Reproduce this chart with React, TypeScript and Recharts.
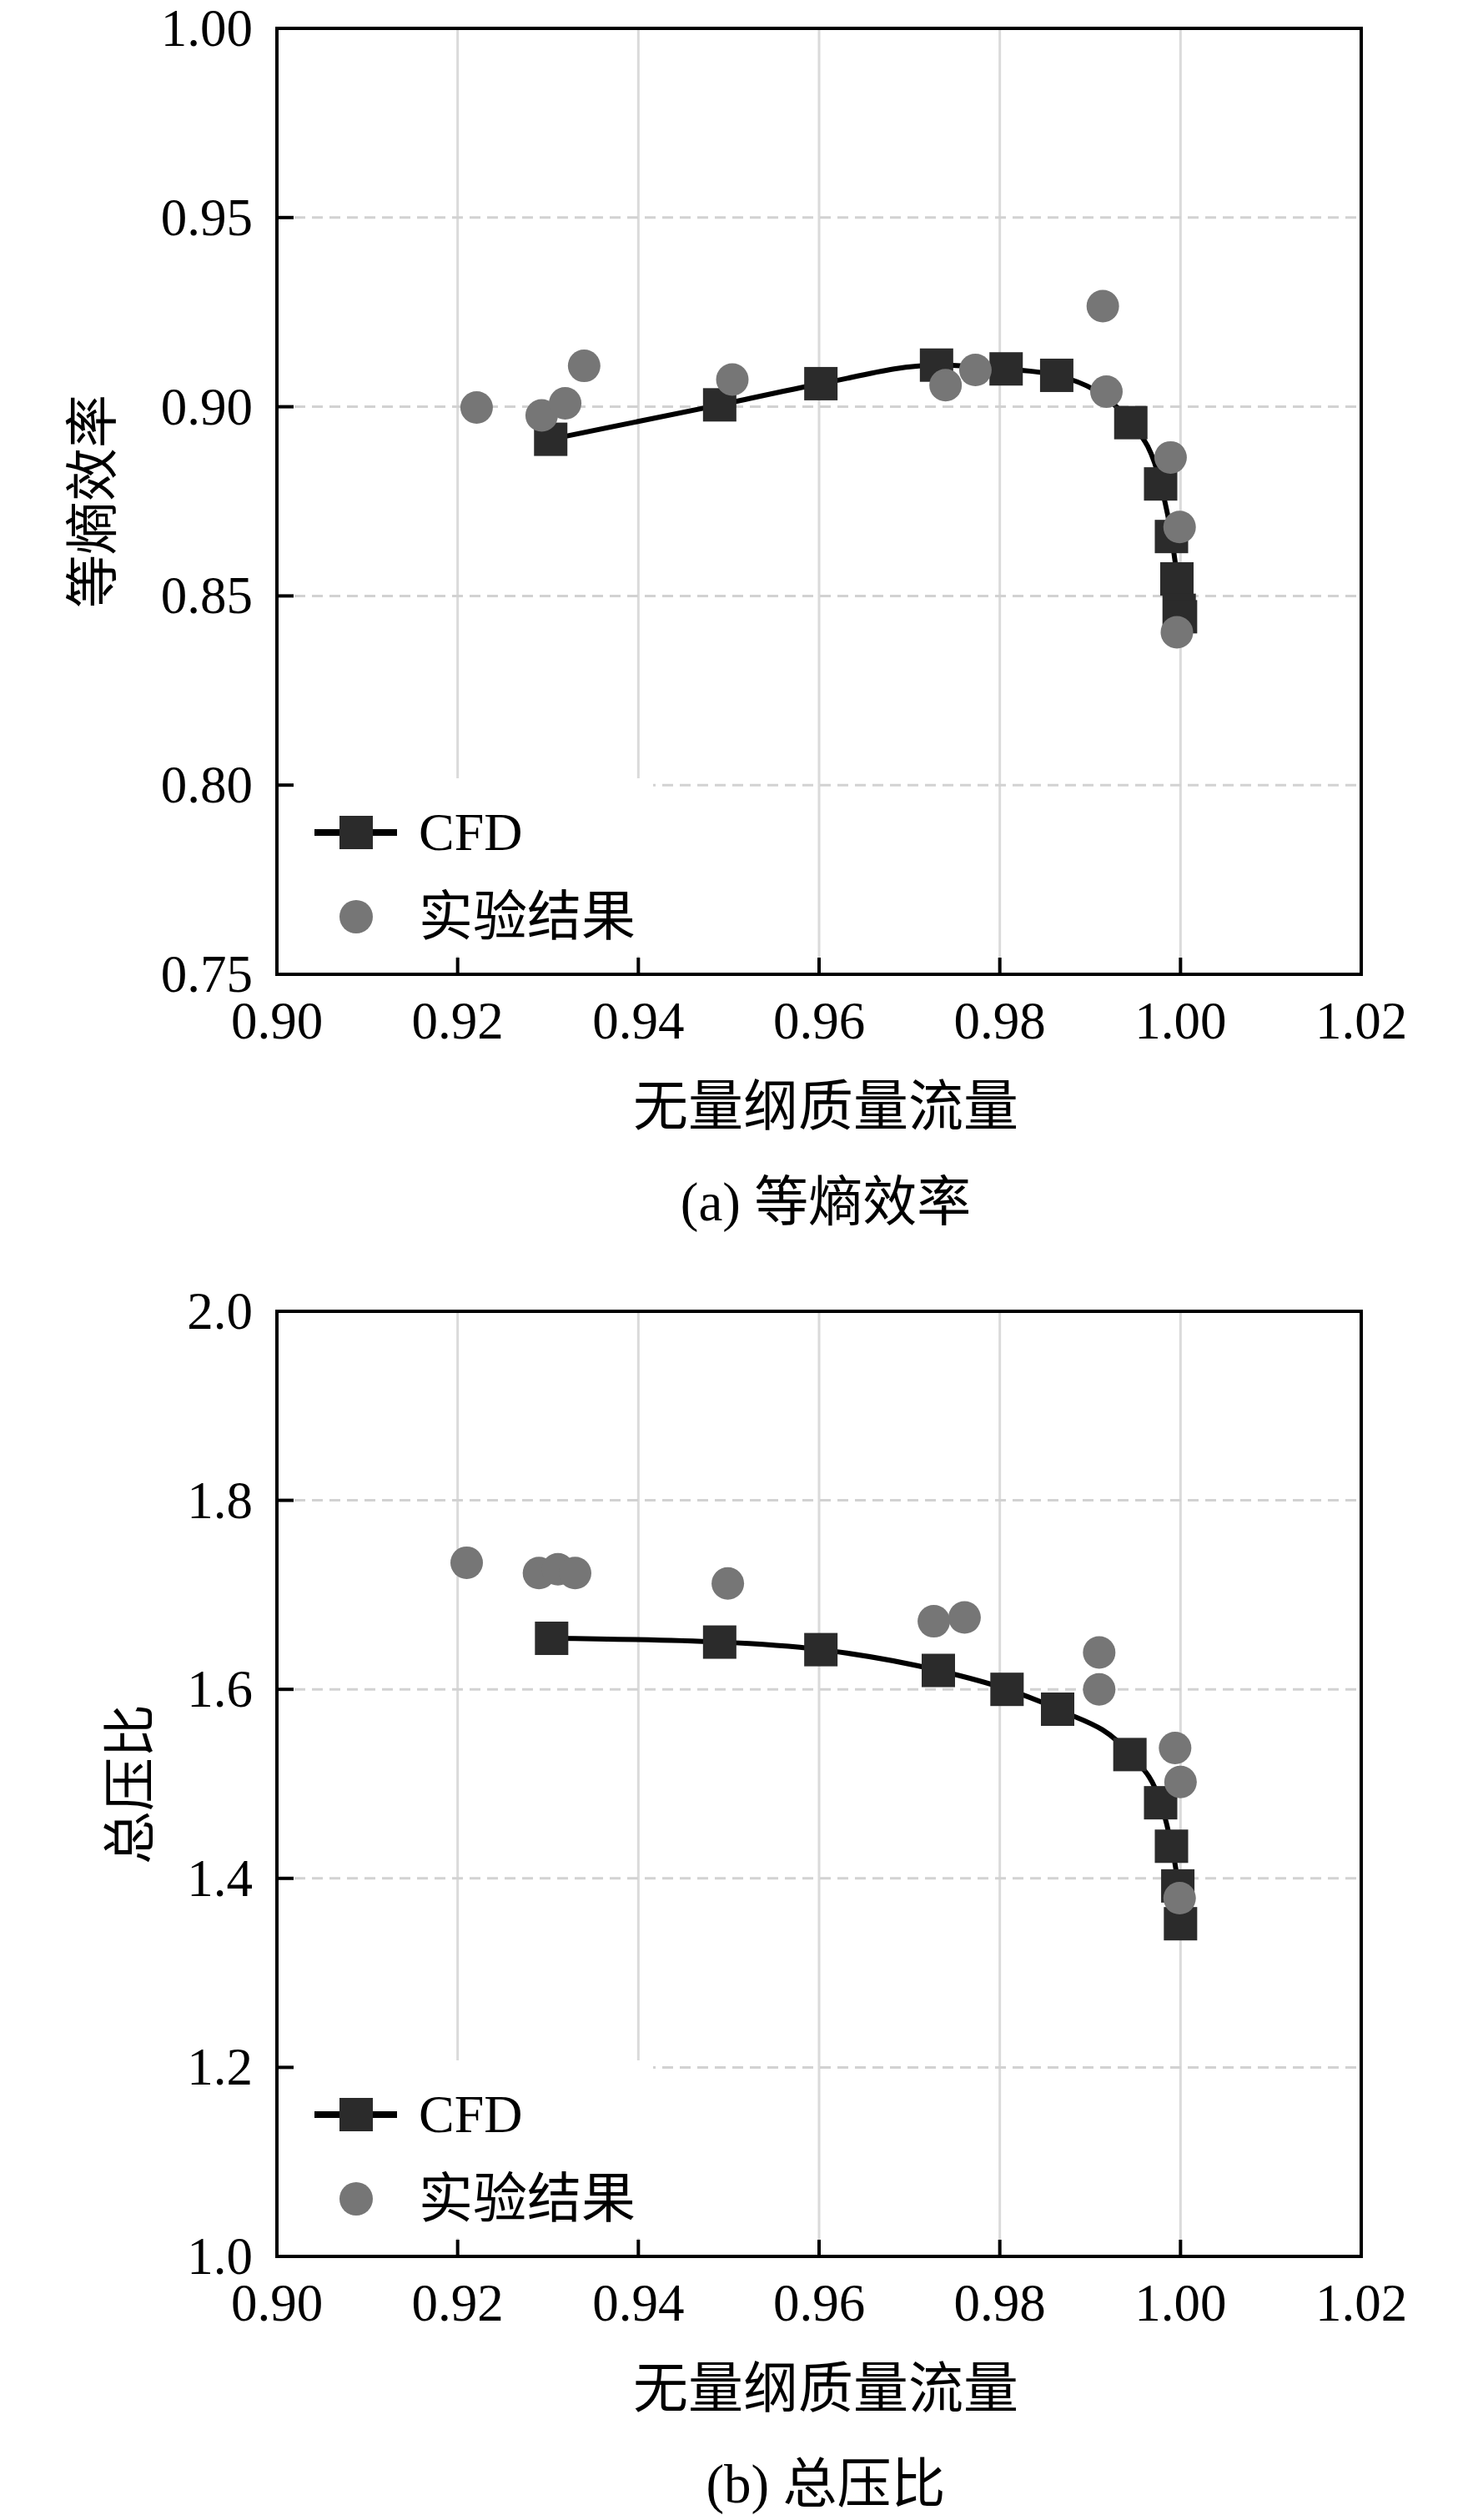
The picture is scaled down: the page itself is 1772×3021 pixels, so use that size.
import React from "react";
import {
  CartesianGrid,
  ComposedChart,
  Legend,
  Line,
  ReferenceArea,
  Scatter,
  XAxis,
  YAxis,
} from "recharts";

// 无量纲质量流量 (x) vs. 等熵效率 / 总压比 (y)
const xTicks = [0.9, 0.92, 0.94, 0.96, 0.98, 1.0, 1.02];

const effTicks = [0.75, 0.8, 0.85, 0.9, 0.95, 1.0];
const prTicks = [1.0, 1.2, 1.4, 1.6, 1.8, 2.0];

const effCfd = [
  { x: 0.9303, y: 0.8914 },
  { x: 0.949, y: 0.9005 },
  { x: 0.9602, y: 0.9061 },
  { x: 0.973, y: 0.911 },
  { x: 0.9807, y: 0.91 },
  { x: 0.9863, y: 0.9083 },
  { x: 0.9945, y: 0.8958 },
  { x: 0.9978, y: 0.8796 },
  { x: 0.999, y: 0.8657 },
  { x: 0.9996, y: 0.8545 },
  { x: 0.99985, y: 0.8462 },
  { x: 1.0, y: 0.8445 },
];

const effExp = [
  { x: 0.9221, y: 0.8998 },
  { x: 0.9293, y: 0.8977 },
  { x: 0.9319, y: 0.9009 },
  { x: 0.934, y: 0.9108 },
  { x: 0.9504, y: 0.9072 },
  { x: 0.974, y: 0.9057 },
  { x: 0.9773, y: 0.9097 },
  { x: 0.9914, y: 0.9266 },
  { x: 0.9918, y: 0.904 },
  { x: 0.9989, y: 0.8866 },
  { x: 0.9999, y: 0.8682 },
  { x: 0.9996, y: 0.8404 },
];

const prCfd = [
  { x: 0.9304, y: 1.654 },
  { x: 0.949, y: 1.65 },
  { x: 0.9602, y: 1.642 },
  { x: 0.9732, y: 1.62 },
  { x: 0.9808, y: 1.6 },
  { x: 0.9864, y: 1.579 },
  { x: 0.9944, y: 1.531 },
  { x: 0.9978, y: 1.48 },
  { x: 0.999, y: 1.434 },
  { x: 0.9997, y: 1.392 },
  { x: 1.0, y: 1.352 },
];

const prExp = [
  { x: 0.921, y: 1.734 },
  { x: 0.929, y: 1.723 },
  { x: 0.9311, y: 1.727 },
  { x: 0.933, y: 1.723 },
  { x: 0.9499, y: 1.712 },
  { x: 0.9727, y: 1.672 },
  { x: 0.9761, y: 1.676 },
  { x: 0.991, y: 1.639 },
  { x: 0.991, y: 1.6 },
  { x: 0.9994, y: 1.538 },
  { x: 1.0, y: 1.502 },
  { x: 0.9999, y: 1.379 },
];

const CFD_NAME = "CFD";
const EXP_NAME = "实验结果";

const SERIF = "'Liberation Serif', 'Times New Roman', serif";
const CJK = "'Liberation Serif', 'Noto Sans CJK SC', serif";
const SQUARE = "#2b2b2b";
const CIRCLE = "#767676";

const W = 1772;
const ML = 332;
const MR = 140;
const MT = 34;
const XH = 110;
const TICK_FS = 63;

const XTick = (p: any) => {
  const m = 56;
  return (
    <g>
      <line x1={p.x} x2={p.x} y1={p.y - m} y2={p.y - m - 20} stroke="#000" strokeWidth={4} />
      <text x={p.x} y={p.y} textAnchor="middle" dominantBaseline="central" fontFamily={SERIF} fontSize={TICK_FS} fill="#000">
        {Number(p.payload.value).toFixed(2)}
      </text>
    </g>
  );
};

const makeYTick = (digits: number) => (p: any) => {
  const m = 29;
  return (
    <g>
      <line x1={p.x + m} x2={p.x + m + 20} y1={p.y} y2={p.y} stroke="#000" strokeWidth={4} />
      <text x={p.x} y={p.y} textAnchor="end" dominantBaseline="central" fontFamily={SERIF} fontSize={TICK_FS} fill="#000">
        {Number(p.payload.value).toFixed(digits)}
      </text>
    </g>
  );
};

const LegendBox = () => (
  <div style={{ position: "relative", width: "100%", height: "100%" }}>
    <svg width={130} height={60} style={{ position: "absolute", left: 9, top: 35 }}>
      <line x1={15} x2={114} y1={30} y2={30} stroke="#000" strokeWidth={8} />
      <rect x={45} y={10} width={40} height={40} fill={SQUARE} />
    </svg>
    <div style={{ position: "absolute", left: 149, top: 65, transform: "translateY(-50%)", fontFamily: SERIF, fontSize: 64, lineHeight: 1, whiteSpace: "nowrap" }}>
      {CFD_NAME}
    </div>
    <svg width={60} height={60} style={{ position: "absolute", left: 44, top: 136 }}>
      <circle cx={30} cy={30} r={20} fill={CIRCLE} />
    </svg>
    <div style={{ position: "absolute", left: 149, top: 166, transform: "translateY(-50%)", fontFamily: CJK, fontSize: 65, lineHeight: 1, whiteSpace: "nowrap" }}>
      {EXP_NAME}
    </div>
  </div>
);

type PanelProps = {
  top: number;
  plotH: number;
  yDomain: [number, number];
  yTicks: number[];
  digits: number;
  cfd: { x: number; y: number }[];
  exp: { x: number; y: number }[];
  yLabel: string;
  yLabelX: number;
  caption: string;
};

function Panel({ top, plotH, yDomain, yTicks, digits, cfd, exp, yLabel, yLabelX, caption }: PanelProps) {
  const H = MT + plotH + XH;
  const plotBottom = MT + plotH;
  const cx = ML + (W - ML - MR) / 2 + 8;
  return (
    <div style={{ position: "absolute", left: 0, top, width: W, height: plotBottom + 330 }}>
      <ComposedChart width={W} height={H} margin={{ top: MT, right: MR, left: 0, bottom: 0 }}>
        <CartesianGrid horizontal={false} stroke="#dadada" strokeWidth={3} />
        <CartesianGrid vertical={false} stroke="#d2d2d2" strokeWidth={3} strokeDasharray="13 8" />
        <XAxis
          type="number"
          dataKey="x"
          domain={[0.9, 1.02]}
          ticks={xTicks}
          interval={0}
          allowDataOverflow
          axisLine={false}
          tickLine={false}
          tickSize={0}
          tickMargin={56}
          height={XH}
          tick={XTick}
        />
        <YAxis
          type="number"
          dataKey="y"
          domain={yDomain}
          ticks={yTicks}
          interval={0}
          allowDataOverflow
          axisLine={false}
          tickLine={false}
          tickSize={0}
          tickMargin={29}
          width={ML}
          tick={makeYTick(digits)}
        />
        <Line
          data={cfd}
          dataKey="y"
          name={CFD_NAME}
          type="monotone"
          stroke="#000"
          strokeWidth={6}
          isAnimationActive={false}
          activeDot={false}
          dot={(p: any) => <rect key={`sq-${p.index}`} x={p.cx - 20} y={p.cy - 20} width={40} height={40} fill={SQUARE} />}
        />
        <Scatter
          data={exp}
          name={EXP_NAME}
          isAnimationActive={false}
          zIndex={2000}
          shape={(p: any) => <circle cx={p.cx} cy={p.cy} r={19.5} fill={CIRCLE} />}
        />
        <ReferenceArea x1={0.9} x2={1.02} y1={yDomain[0]} y2={yDomain[1]} fill="none" stroke="#000" strokeWidth={4} />
        <Legend
          layout="vertical"
          align="center"
          verticalAlign="middle"
          content={LegendBox}
          wrapperStyle={{ left: 353, top: plotBottom - 235, width: 430, height: 213, background: "#fff" }}
        />
      </ComposedChart>
      <div
        style={{
          position: "absolute",
          left: yLabelX,
          top: MT + plotH / 2,
          transform: "translate(-50%, -50%) rotate(-90deg)",
          fontFamily: CJK,
          fontSize: 64,
          lineHeight: 1,
          whiteSpace: "nowrap",
        }}
      >
        {yLabel}
      </div>
      <div
        style={{
          position: "absolute",
          left: cx,
          top: plotBottom + 159,
          transform: "translate(-50%, -50%)",
          fontFamily: CJK,
          fontSize: 66,
          lineHeight: 1,
          whiteSpace: "nowrap",
        }}
      >
        无量纲质量流量
      </div>
      <div
        style={{
          position: "absolute",
          left: cx,
          top: plotBottom + 273,
          transform: "translate(-50%, -50%)",
          fontFamily: CJK,
          fontSize: 65,
          lineHeight: 1,
          whiteSpace: "nowrap",
        }}
      >
        {caption}
      </div>
    </div>
  );
}

export default function App() {
  return (
    <div style={{ position: "absolute", left: 0, top: 0, width: W, height: 3021, background: "#fff" }}>
      <Panel
        top={0}
        plotH={1134}
        yDomain={[0.75, 1.0]}
        yTicks={effTicks}
        digits={2}
        cfd={effCfd}
        exp={effExp}
        yLabel="等熵效率"
        yLabelX={112}
        caption="(a) 等熵效率"
      />
      <Panel
        top={1538}
        plotH={1133}
        yDomain={[1.0, 2.0]}
        yTicks={prTicks}
        digits={1}
        cfd={prCfd}
        exp={prExp}
        yLabel="总压比"
        yLabelX={157}
        caption="(b) 总压比"
      />
    </div>
  );
}
